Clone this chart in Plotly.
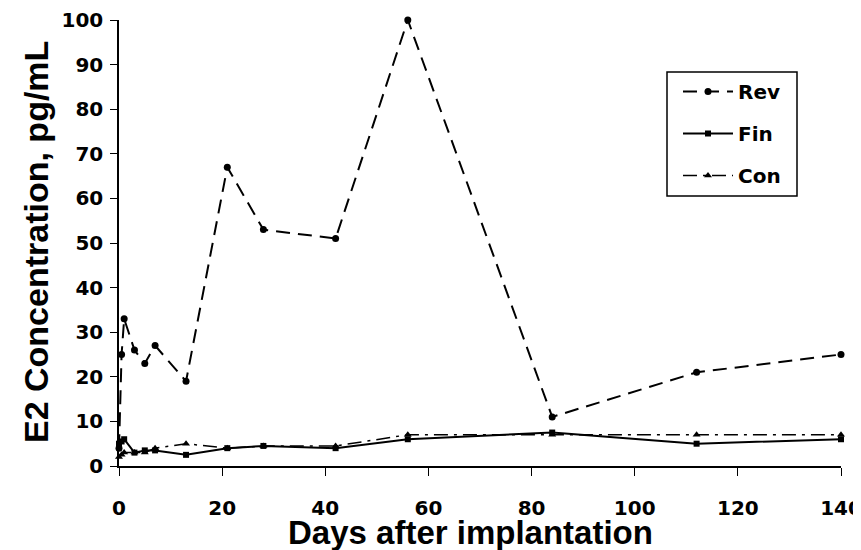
import plotly.graph_objects as go

days = [0, 0.5, 1, 3, 5, 7, 13, 21, 28, 42, 56, 84, 112, 140]
rev = [4, 25, 33, 26, 23, 27, 19, 67, 53, 51, 100, 11, 21, 25]
fin = [5, 5.5, 6, 3, 3.5, 3.5, 2.5, 4, 4.5, 4, 6, 7.5, 5, 6]
con = [2, 2.5, 3, 3, 3, 4, 5, 4, 4.5, 4.5, 7, 7, 7, 7]

xticks = [0, 20, 40, 60, 80, 100, 120, 140]
yticks = [0, 10, 20, 30, 40, 50, 60, 70, 80, 90, 100]

x_title = "Days after implantation"
y_title = "E2 Concentration, pg/mL"

# plot area in figure pixels
L, R, T, B = 111, 833, 12, 458
W, H = R - L, B - T

def px(xf):
    return (xf - L) / W

def py(yf):
    return (B - yf) / H

fig = go.Figure()
fig.add_trace(go.Scatter(x=days, y=rev, name="Rev", mode="lines+markers", legendgroup="a",
                         line=dict(color="black", width=2, dash="14px,8px"),
                         marker=dict(symbol="circle", size=7, color="black"),
                         cliponaxis=False))
fig.add_trace(go.Scatter(x=days, y=fin, name="Fin", mode="lines+markers", legendgroup="b",
                         line=dict(color="black", width=2),
                         marker=dict(symbol="square", size=6, color="black"),
                         cliponaxis=False))
fig.add_trace(go.Scatter(x=days, y=con, name="Con", mode="lines+markers", legendgroup="c",
                         line=dict(color="black", width=1.5, dash="14px,6px,3px,6px"),
                         marker=dict(symbol="triangle-up", size=7, color="black"),
                         cliponaxis=False))

fig.update_layout(
    width=861, height=550,
    margin=dict(l=L, r=861 - R, t=T, b=550 - B, autoexpand=False),
    paper_bgcolor="white", plot_bgcolor="white",
    font=dict(family="Liberation Sans, Arial, sans-serif", color="black"),
    legend=dict(x=px(670), y=py(64), xanchor="left", yanchor="top",
                borderwidth=0, bgcolor="rgba(0,0,0,0)",
                font=dict(family="DejaVu Sans", size=20, weight="bold"),
                traceorder="grouped", tracegroupgap=13, itemwidth=50),
    showlegend=True,
    shapes=[dict(type="rect", xref="paper", yref="paper",
                 x0=px(659), x1=px(789), y0=py(188), y1=py(64),
                 line=dict(color="black", width=1.5), layer="below")],
    annotations=[
        dict(text=x_title, xref="paper", yref="paper", x=px(462), y=py(524),
             xanchor="center", yanchor="middle", showarrow=False,
             font=dict(size=33, weight="bold")),
        dict(text=y_title, xref="paper", yref="paper", x=px(28), y=py(234),
             xanchor="center", yanchor="middle", showarrow=False, textangle=-90,
             font=dict(size=34, weight="bold")),
    ],
)
fig.update_xaxes(range=[0, 140], tickvals=xticks, ticks="outside", ticklen=8,
                 tickcolor="black", showline=True, linecolor="black", linewidth=1.5,
                 showgrid=False, zeroline=False, ticklabelstandoff=15, automargin=False,
                 tickfont=dict(family="DejaVu Sans", size=20, weight="bold"))
fig.update_yaxes(range=[0, 100], tickvals=yticks, ticks="outside", ticklen=7,
                 tickcolor="black", showline=True, linecolor="black", linewidth=1.5,
                 showgrid=False, zeroline=False, ticklabelstandoff=3, automargin=False,
                 tickfont=dict(family="DejaVu Sans", size=20, weight="bold"))

fig.write_html("out.html")
